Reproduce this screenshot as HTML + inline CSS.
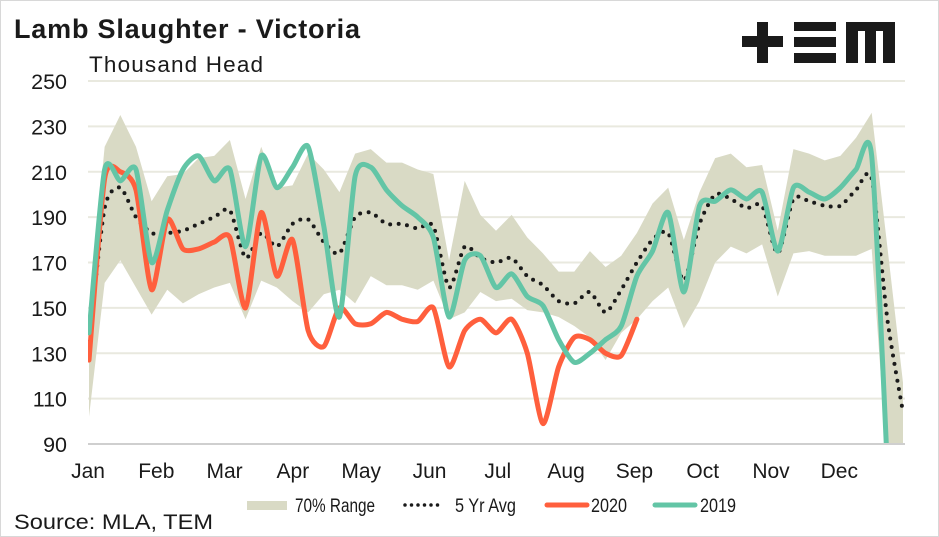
<!DOCTYPE html>
<html><head><meta charset="utf-8"><style>
html,body{margin:0;padding:0;background:#fff;}
svg{display:block;font-family:"Liberation Sans",sans-serif;}
</style></head><body>
<svg id="chart" width="939" height="537" viewBox="0 0 939 537">
<rect x="0.5" y="0.5" width="938" height="536" fill="#fff" stroke="#d8d8d8"/>
<text x="14" y="38" font-size="27" font-weight="bold" fill="#1a1a1a" textLength="346">Lamb Slaughter - Victoria</text>
<text x="89" y="72" font-size="22.5" fill="#1a1a1a" textLength="174">Thousand Head</text>
<g fill="#1a1a1a">
<rect x="742" y="36" width="41" height="11"/><rect x="757" y="22" width="11" height="41"/>
<rect x="794" y="22" width="42" height="9"/><rect x="794" y="37" width="42" height="10"/><rect x="794" y="53" width="42" height="10"/>
<rect x="846" y="22" width="49" height="9"/><rect x="846" y="22" width="12" height="41"/><rect x="865" y="22" width="11" height="41"/><rect x="883" y="22" width="12" height="41"/>
</g>
<defs><clipPath id="plotclip"><rect x="88" y="60" width="820" height="384"/></clipPath></defs>
<g id="grid"></g>
<g id="marks" clip-path="url(#plotclip)"></g>
<line x1="88" y1="444" x2="905" y2="444" stroke="#cfcfcf" stroke-width="2"/>
<g id="yticks"></g><g id="xticks"></g>
<g font-size="19" fill="#1a1a1a">
<rect x="247" y="501" width="40" height="9" fill="#d9dac5"/>
<text x="295" y="512" textLength="80" lengthAdjust="spacingAndGlyphs">70% Range</text>
<line x1="405" y1="505" x2="439" y2="505" stroke="#1a1a1a" stroke-width="3.5" stroke-dasharray="0 6.5" stroke-linecap="round"/>
<text x="455" y="512" textLength="61" lengthAdjust="spacingAndGlyphs">5 Yr Avg</text>
<line x1="547" y1="505" x2="587" y2="505" stroke="#ff5f3d" stroke-width="5" stroke-linecap="round"/>
<text x="591" y="512" textLength="36" lengthAdjust="spacingAndGlyphs">2020</text>
<line x1="655" y1="505" x2="695" y2="505" stroke="#63c5a6" stroke-width="5" stroke-linecap="round"/>
<text x="700" y="512" textLength="36" lengthAdjust="spacingAndGlyphs">2019</text>
</g>
<text x="14" y="529" font-size="21" fill="#1a1a1a" textLength="199" lengthAdjust="spacingAndGlyphs">Source: MLA, TEM</text>
</svg>
<script>
const yTicks=[90,110,130,150,170,190,210,230,250];
const months=["Jan","Feb","Mar","Apr","May","Jun","Jul","Aug","Sep","Oct","Nov","Dec"];
const rangeUpper=[150,221,235,221,197,208,209,216,217,224,198,221,203,204,218,211,201,218,220,214,214,211,209,171,206,191,184,191,181,174,166,166,175,168,173,183,196,203,180,201,216,218,212,213,184,220,218,215,217,225,236,177,117];
const rangeLower=[102,161,171,159,147,158,152,156,159,161,145,162,159,153,148,156,158,152,164,160,160,158,162,145,148,157,153,154,149,148,146,142,137,127,139,145,153,159,141,153,170,177,174,178,155,174,175,173,173,173,176,80,80];
const avg5yr=[135,194,203,190,183,183,184,187,190,193,172,183,177,187,189,179,174,190,192,187,187,185,186,159,177,172,170,172,164,160,153,152,157,148,158,170,180,183,162,187,200,198,194,195,174,198,197,195,195,202,207,145,104];
const y2019=[139,211,206,211,170,193,211,217,206,211,177,217,203,212,221,186,146,208,212,202,195,190,181,146,171,173,159,165,155,151,136,126,130,136,142,164,175,192,157,195,197,202,198,201,175,203,201,198,203,211,217,80];
const y2020=[127,207,210,202,158,189,176,176,179,181,150,192,164,180,140,133,150,143,143,148,145,144,150,124,140,145,139,145,130,99,124,137,136,130,129,145];

const NS="http://www.w3.org/2000/svg";
const X0=89,X1=903,NW=52;
const xScale=w=>X0+(X1-X0)*w/NW;
const yScale=v=>81+(250-v)*363/160;
function mk(tag,attrs,parent){const e=document.createElementNS(NS,tag);for(const k in attrs)e.setAttribute(k,attrs[k]);parent.appendChild(e);return e;}
const grid=document.getElementById('grid'),marks=document.getElementById('marks');
const yt=document.getElementById('yticks'),xt=document.getElementById('xticks');
yTicks.forEach(v=>{
  if(v>90){const l=mk('line',{x1:88,x2:905,y1:yScale(v),y2:yScale(v),stroke:'#e9e9df','stroke-width':2},grid);
  
  }
  const t=mk('text',{x:67,y:yScale(v)+8,'text-anchor':'end','font-size':21.5,fill:'#1a1a1a'},yt);
  t.textContent=v;
  
  
});
months.forEach((m,i)=>{
  const t=mk('text',{x:X0-1+i*68.3,y:478,'text-anchor':'middle','font-size':21,fill:'#1a1a1a'},xt);
  t.textContent=m;
  
  
});
let pts=rangeUpper.map((v,i)=>xScale(i)+','+yScale(v));
for(let i=rangeLower.length-1;i>=0;i--)pts.push(xScale(i)+','+yScale(rangeLower[i]));
const band=mk('polygon',{points:pts.join(' '),fill:'#d9dac5'},marks);


function smooth(vals){
  const p=vals.map((v,i)=>[xScale(i),yScale(v)]);
  let d='M'+p[0][0]+','+p[0][1];
  for(let i=0;i<p.length-1;i++){
    const p0=p[Math.max(0,i-1)],p1=p[i],p2=p[i+1],p3=p[Math.min(p.length-1,i+2)];
    const t=0.12;
    d+=' C'+(p1[0]+(p2[0]-p0[0])*t)+','+(p1[1]+(p2[1]-p0[1])*t)+' '+(p2[0]-(p3[0]-p1[0])*t)+','+(p2[1]-(p3[1]-p1[1])*t)+' '+p2[0]+','+p2[1];
  }
  return d;
}
const avg=mk('path',{d:smooth(avg5yr),fill:'none',stroke:'#1a1a1a','stroke-width':4,'stroke-dasharray':'0 8.5','stroke-linecap':'round'},marks);


const l20=mk('path',{d:smooth(y2020),fill:'none',stroke:'#ff5f3d','stroke-width':5,'stroke-linejoin':'round','stroke-linecap':'round'},marks);


const l19=mk('path',{d:smooth(y2019),fill:'none',stroke:'#63c5a6','stroke-width':5,'stroke-linejoin':'round','stroke-linecap':'round'},marks);


</script>
</body></html>
